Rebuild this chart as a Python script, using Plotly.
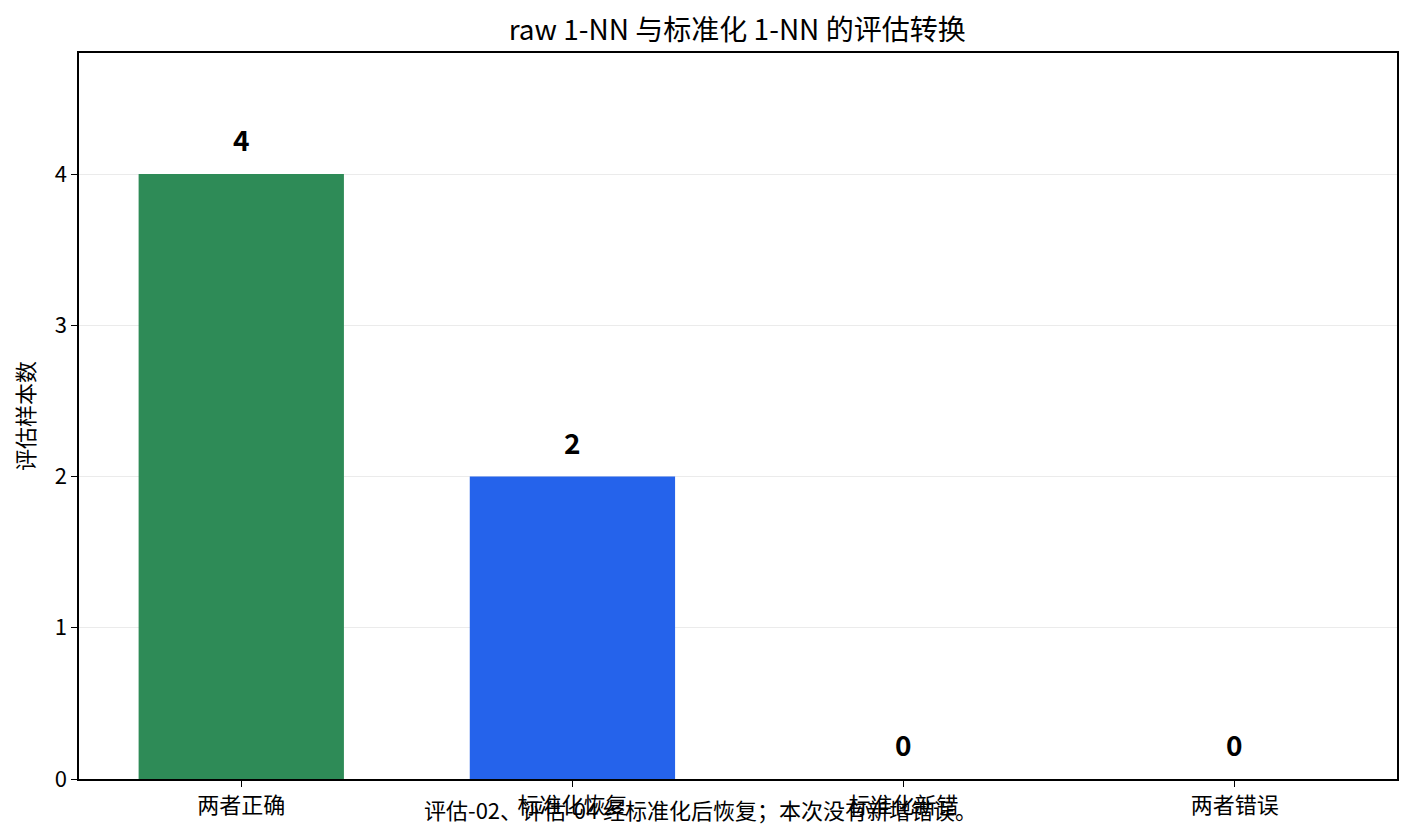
import plotly.graph_objects as go

# ---- data ----
categories = ["两者正确", "标准化恢复", "标准化新错", "两者错误"]
counts = [4, 2, 0, 0]
bar_colors = ["#2e8b57", "#2563eb", "#d97706", "#dc2626"]

title_text = "raw 1-NN 与标准化 1-NN 的评估转换"
y_label = "评估样本数"
note_text = "评估-02、评估-04 经标准化后恢复；本次没有新增错误。"

font_family = "Noto Sans CJK SC, Noto Sans, sans-serif"

fig = go.Figure()

fig.add_trace(
    go.Bar(
        x=list(range(len(categories))),
        y=counts,
        width=0.62,
        marker=dict(color=bar_colors, line=dict(width=0)),
        showlegend=False,
    )
)

# value labels above each bar
for i, v in enumerate(counts):
    fig.add_annotation(
        x=i, y=v, xref="x", yref="y",
        text=f"<b>{v}</b>",
        showarrow=False,
        yanchor="bottom",
        yshift=13,
        font=dict(size=28, color="black", family=font_family),
    )

# note at the bottom of the figure (overlaps the tick labels, as in the source)
fig.add_annotation(
    x=0.4712, y=-0.0413, xref="paper", yref="paper",
    text=note_text,
    showarrow=False,
    xanchor="center", yanchor="middle",
    font=dict(size=22, color="black", family=font_family),
)

fig.update_layout(
    width=1405,
    height=831,
    margin=dict(l=71, r=16, t=45, b=60),
    paper_bgcolor="white",
    plot_bgcolor="white",
    font=dict(family=font_family, size=22, color="black"),
    title=dict(
        text=title_text,
        x=0.519, xanchor="center",
        y=0.9735, yanchor="middle",
        font=dict(size=28, color="black", family=font_family),
    ),
)

fig.update_xaxes(
    tickmode="array",
    tickvals=list(range(len(categories))),
    ticktext=categories,
    range=[-0.49, 3.49],
    showline=True, linecolor="black", linewidth=1.5, mirror=True,
    ticks="outside", ticklen=6, tickcolor="black",
    showgrid=False, zeroline=False,
    tickfont=dict(size=22),
)

fig.update_yaxes(
    title=dict(text=y_label, font=dict(size=22), standoff=14),
    range=[0, 4.8],
    dtick=1,
    showline=True, linecolor="black", linewidth=1.5, mirror=True,
    ticks="outside", ticklen=6, tickcolor="black",
    showgrid=True, gridcolor="#ebebeb", gridwidth=1,
    zeroline=False,
    tickfont=dict(size=22),
)

fig.write_html("out.html")
